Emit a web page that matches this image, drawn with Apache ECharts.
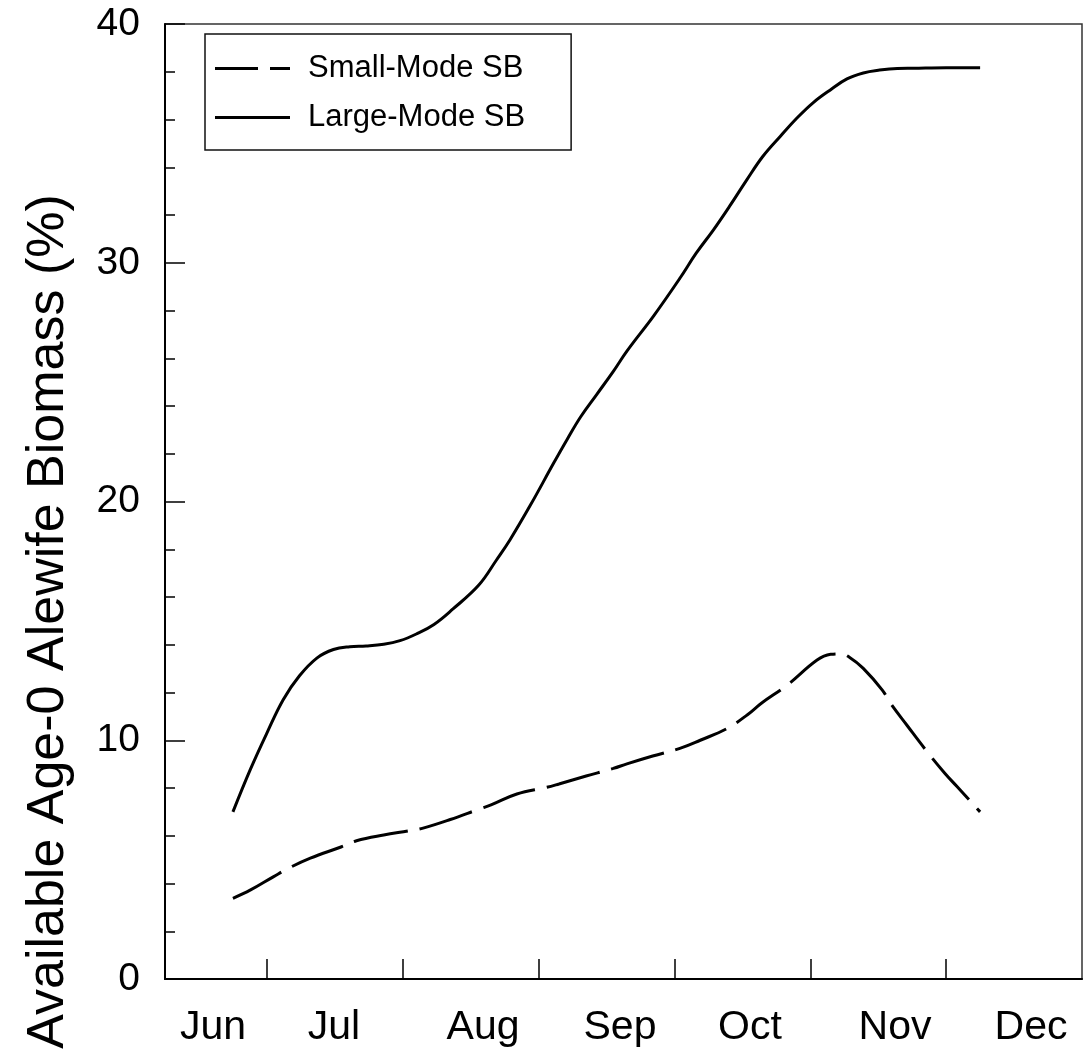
<!DOCTYPE html>
<html>
<head>
<meta charset="utf-8">
<script src="https://cdn.jsdelivr.net/npm/echarts@6/dist/echarts.min.js"></script>
<style>
html,body{margin:0;padding:0;background:#fff;}
#chart{width:1084px;height:1059px;}
</style>
</head>
<body>
<div id="chart"></div>
<script>
// x in months since June 1 (month boundaries at integers)
var monthLabels = ['Jun', 'Jul', 'Aug', 'Sep', 'Oct', 'Nov', 'Dec'];
var monthLabelPos = [0.603, 1.494, 2.591, 3.599, 4.556, 5.624, 6.625];
var monthTicks = [1, 2, 3, 4, 5, 6];

var smallX = [0.75, 0.88, 1.05, 1.16, 1.32, 1.55, 1.66, 1.86, 2.05, 2.15, 2.35, 2.56, 2.65, 2.84, 3.06, 3.15, 3.35, 3.55, 3.65, 3.84, 4.04, 4.19, 4.39, 4.54, 4.64, 4.83, 5.05, 5.15, 5.22, 5.29, 5.39, 5.53, 5.59, 5.71, 5.86, 5.99, 6.08, 6.25];
var smallY = [3.38, 3.73, 4.29, 4.64, 5.06, 5.54, 5.79, 6.03, 6.21, 6.32, 6.68, 7.11, 7.29, 7.75, 8.03, 8.17, 8.50, 8.82, 9.01, 9.34, 9.66, 10.0, 10.5, 11.08, 11.55, 12.31, 13.36, 13.60, 13.62, 13.47, 13.01, 12.10, 11.55, 10.64, 9.52, 8.62, 8.06, 7.0];

var largeX = [0.75, 0.88, 1.00, 1.12, 1.24, 1.37, 1.49, 1.61, 1.73, 1.86, 1.98, 2.10, 2.23, 2.37, 2.56, 2.69, 2.79, 2.94, 3.11, 3.21, 3.31, 3.43, 3.55, 3.65, 3.85, 4.04, 4.16, 4.29, 4.41, 4.53, 4.65, 4.78, 4.90, 5.02, 5.15, 5.27, 5.39, 5.51, 5.64, 5.76, 6.00, 6.25];
var largeY = [7.0, 8.8, 10.3, 11.7, 12.7, 13.45, 13.8, 13.92, 13.95, 14.02, 14.17, 14.45, 14.85, 15.5, 16.5, 17.55, 18.4, 19.85, 21.6, 22.6, 23.55, 24.5, 25.45, 26.3, 27.8, 29.35, 30.4, 31.4, 32.4, 33.45, 34.45, 35.3, 36.05, 36.7, 37.25, 37.7, 37.95, 38.07, 38.14, 38.15, 38.17, 38.17];

function zip(a, b) { return a.map(function (v, i) { return [v, b[i]]; }); }

var FONT = '"Liberation Sans", Arial, sans-serif';
var iconStyle = {color: '#000', borderWidth: 0};
var chart = echarts.init(document.getElementById('chart'), null, {renderer: 'canvas'});
chart.setOption({
  backgroundColor: '#ffffff',
  animation: false,
  grid: {
    left: 165, right: 2, top: 24, bottom: 80,
    show: true, borderColor: '#333', borderWidth: 1.5, backgroundColor: 'transparent'
  },
  legend: {
    orient: 'vertical',
    left: 205, top: 34,
    padding: [19, 46, 17, 10],
    itemWidth: 75, itemHeight: 30, itemGap: 18,
    symbolKeepAspect: true,
    borderColor: '#111', borderWidth: 1.5,
    itemStyle: iconStyle,
    textStyle: {fontFamily: FONT, fontSize: 31, color: '#000', padding: [0, 0, 0, 13]},
    data: [
      {name: 'Small-Mode SB', icon: 'path://M0,0h43v3h-43zM55,0h20v3h-20z', itemStyle: iconStyle},
      {name: 'Large-Mode SB', icon: 'path://M0,0h75v3h-75z', itemStyle: iconStyle}
    ]
  },
  xAxis: {
    type: 'value', min: 0.25, max: 7,
    axisLine: {show: true, lineStyle: {color: '#000', width: 2}},
    axisTick: {show: true, inside: true, length: 20, lineStyle: {color: '#000', width: 1.5}, customValues: monthTicks},
    axisLabel: {
      show: true, customValues: monthLabelPos, margin: 28,
      fontFamily: FONT, fontSize: 41, color: '#000',
      formatter: function (v) {
        var best = 0, d = 1e9;
        monthLabelPos.forEach(function (p, i) { if (Math.abs(p - v) < d) { d = Math.abs(p - v); best = i; } });
        return monthLabels[best];
      }
    },
    splitLine: {show: false}
  },
  yAxis: {
    type: 'value', min: 0, max: 40, interval: 10,
    name: 'Available Age-0 Alewife Biomass (%)',
    nameLocation: 'middle', nameGap: 90,
    nameTextStyle: {fontFamily: FONT, fontSize: 52, color: '#000', padding: [0, 240, 0, 0]},
    axisLine: {show: true, lineStyle: {color: '#000', width: 2}},
    axisTick: {show: true, inside: true, length: 20, lineStyle: {color: '#000', width: 1.5}},
    minorTick: {show: true, splitNumber: 5, length: 10, lineStyle: {color: '#000', width: 1.5}},
    axisLabel: {fontFamily: FONT, fontSize: 39, color: '#000', margin: 25},
    splitLine: {show: false}
  },
  series: [
    {
      name: 'Small-Mode SB', type: 'line', data: zip(smallX, smallY),
      showSymbol: false, smooth: 0.4,
      lineStyle: {color: '#000', width: 3, type: [55, 12]},
      itemStyle: {color: '#000'}
    },
    {
      name: 'Large-Mode SB', type: 'line', data: zip(largeX, largeY),
      showSymbol: false, smooth: 0.4,
      lineStyle: {color: '#000', width: 3, type: 'solid'},
      itemStyle: {color: '#000'}
    }
  ]
});
</script>
</body>
</html>
